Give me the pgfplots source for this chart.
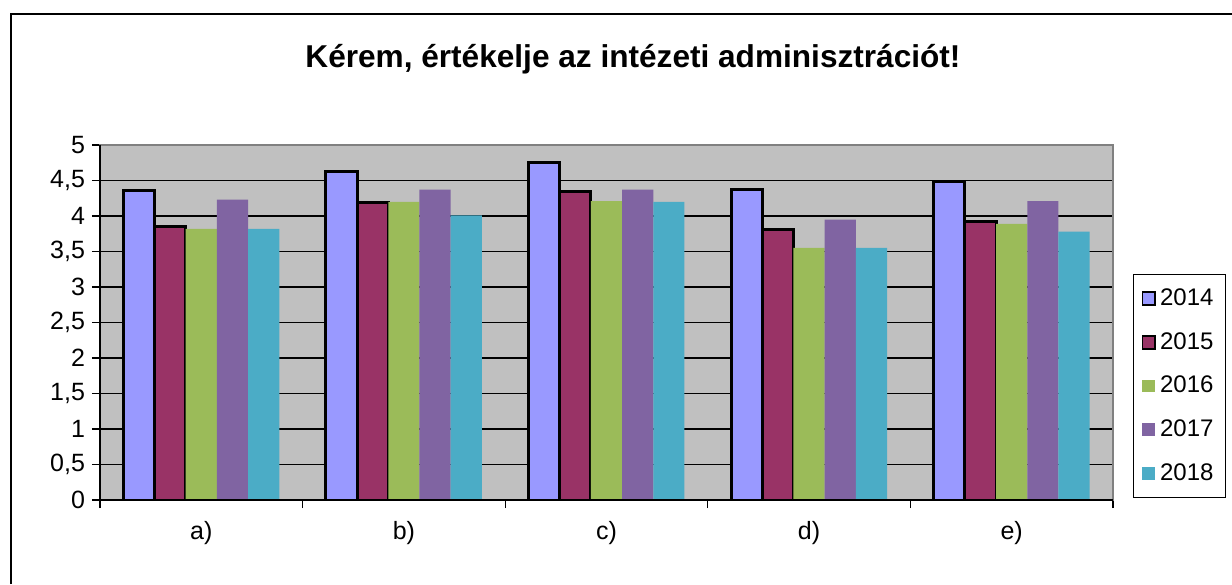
\documentclass[border=0pt]{standalone}
\usepackage{pgfplots}
\pgfplotsset{compat=1.18}
\usepackage{fontspec}
\setmainfont{Liberation Sans}
\definecolor{c14}{HTML}{9999FF}
\definecolor{c15}{HTML}{993366}
\definecolor{c16}{HTML}{9BBB59}
\definecolor{c17}{HTML}{8064A2}
\definecolor{c18}{HTML}{4BACC6}
\definecolor{bg}{HTML}{C0C0C0}
\definecolor{frm}{HTML}{808080}
\begin{document}
\begin{tikzpicture}[x=0.5pt,y=0.5pt]
\useasboundingbox (-100,-84) rectangle (1132,500);
\begin{axis}[
  at={(0,0)}, anchor=south west,
  scale only axis, width=506.5pt, height=177.5pt,
  ybar=0pt, bar width=15.6pt,
  xmin=-0.5, xmax=4.5, ymin=0, ymax=5,
  enlargelimits=false,
  xtick={0,...,4}, xticklabels={a),b),c),d),e)},
  minor xtick={-0.5,0.5,...,4.5},
  every major x tick/.append style={draw=none},
  ytick={0,0.5,...,5},
  xtick pos=bottom, ytick pos=left,
  tick align=outside, major tick length=4pt, minor tick length=4pt,
  tick style={black, line width=0.6pt},
  ymajorgrids, major grid style={black, line width=0.7pt},
  axis background/.style={fill=bg},
  axis line style={frm, line width=1pt},
  /pgf/number format/assume math mode=true,
  /pgf/number format/use comma,
  yticklabel style={/pgf/number format/fixed, /pgf/number format/use comma},
  ticklabel style={font=\fontsize{12.5}{15}\selectfont},
  xticklabel style={yshift=-3pt},
  legend style={at={(1.0197,0.0056)}, anchor=south west, draw=black, line width=0.6pt,
    font=\fontsize{12}{14}\selectfont, row sep=8pt, inner xsep=4pt, inner ysep=5pt,
    legend cell align=left},
  legend image code/.code={\path[#1, line width=0.9pt] (0pt,-3.2pt) rectangle (6.4pt,3.2pt);},
  after end axis/.code={
    \draw[black, line width=1pt] (rel axis cs:0,1) -- (rel axis cs:0,0) -- (rel axis cs:1,0);
  },
]
\addplot[fill=c14, draw=black, line width=1.5pt] coordinates {(0,4.36) (1,4.62) (2,4.76) (3,4.38) (4,4.48)};
\addplot[fill=c15, draw=black, line width=1.5pt] coordinates {(0,3.85) (1,4.19) (2,4.35) (3,3.81) (4,3.92)};
\addplot[fill=c16, draw=none] coordinates {(0,3.82) (1,4.20) (2,4.21) (3,3.55) (4,3.89)};
\addplot[fill=c17, draw=none] coordinates {(0,4.23) (1,4.37) (2,4.37) (3,3.95) (4,4.21)};
\addplot[fill=c18, draw=none] coordinates {(0,3.82) (1,4.01) (2,4.20) (3,3.55) (4,3.78)};
\legend{2014,2015,2016,2017,2018}
\end{axis}
\node[anchor=base, font=\bfseries\fontsize{15.8}{19}\selectfont] at (533,432) {Kérem, értékelje az intézeti adminisztrációt!};
\draw[black, line width=1pt] (-89,-84) -- (-89,486) -- (1132,486);
\end{tikzpicture}
\end{document}
